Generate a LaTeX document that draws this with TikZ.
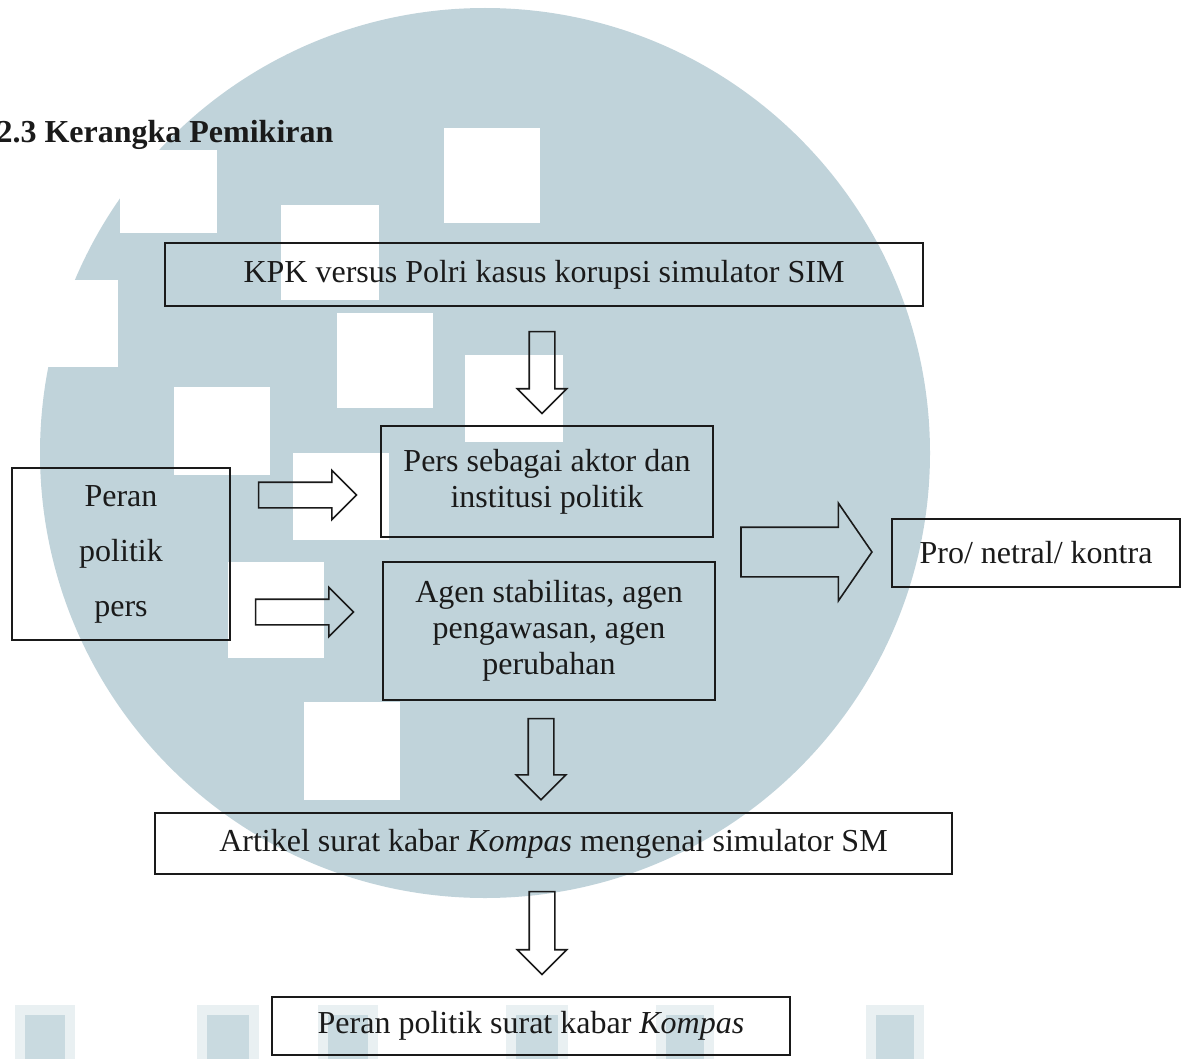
\documentclass[tikz,border=0pt]{standalone}
\usepackage{fontspec}
\setmainfont{Liberation Serif}
\usetikzlibrary{positioning, shapes.arrows, calc}

\definecolor{umnblue}{HTML}{C0D3DA}
\definecolor{inkcol}{HTML}{1A1A1A}

\begin{document}
\begin{tikzpicture}[
    x=0.375pt, y=-0.375pt,
    font=\fontsize{12}{13.5}\selectfont,
    box/.style={draw=inkcol, line width=0.6pt, inner sep=0pt, align=center, text=inkcol},
    blockarrow/.style={draw=inkcol, line width=0.6pt, single arrow, inner xsep=0pt, inner ysep=4.5pt,
        single arrow head extend=4.5pt, minimum height=#1, anchor=tail},
    bigarrow/.style={blockarrow=#1, inner ysep=9pt, single arrow head extend=9pt, single arrow tip angle=111}
]
\useasboundingbox (0,0) rectangle (1184,1059);

% watermark
\fill[umnblue] (485,453) circle (445);
\fill[white] (120,150) rectangle (217,233);
\fill[white] (40,280) rectangle (118,367);
\fill[white] (444,128) rectangle (540,223);
\fill[white] (281,205) rectangle (379,300);
\fill[white] (337,313) rectangle (433,408);
\fill[white] (465,355) rectangle (563,442);
\fill[white] (174,387) rectangle (270,475);
\fill[white] (293,453) rectangle (389,540);
\fill[white] (228,562) rectangle (324,658);
\fill[white] (304,702) rectangle (400,800);
\foreach \bx/\bw in {15/60,197/62,318/60,506/62,656/58,866/58} {
    \fill[umnblue!35] (\bx,1005) rectangle ++(\bw,60);
    \fill[umnblue!85] (\bx+10,1015) rectangle ++(\bw-20,50);
}

\node[font=\bfseries\fontsize{12}{15}\selectfont, anchor=base west, inner sep=0pt, text=inkcol] (title) at (-4,143) {2.3 Kerangka Pemikiran};

\node[box, minimum width=284.25pt, minimum height=23.6pt] (kpk) at (544,274.5) {KPK versus Polri kasus korupsi simulator SIM};
\node[box, minimum width=124.5pt, minimum height=41.6pt] (pers) at (547,481.5) {Pers sebagai aktor dan\\institusi politik};
\node[box, minimum width=124.5pt, minimum height=51.75pt] (agen) at (549,631) {Agen stabilitas, agen\\pengawasan, agen\\perubahan};
\node[box, minimum width=81.75pt, minimum height=64.5pt, font=\fontsize{12}{20.6}\selectfont] (peran) at (121,554) {Peran\\politik\\pers};
\node[box, minimum width=108pt, minimum height=25.5pt] (pro) at (1036,553) {Pro/ netral/ kontra};
\node[box, minimum width=298.9pt, minimum height=22.9pt] (artikel) at (553.5,843.5) {Artikel surat kabar \textit{Kompas} mengenai simulator SM};
\node[box, minimum width=194.25pt, minimum height=21.75pt] (kompas) at (531,1026) {Peran politik surat kabar \textit{Kompas}};

% block arrows
\node[blockarrow=30.75pt, rotate=-90] (a1) at ($(kpk.south)+(-2,24)$) {};
\node[blockarrow=30.4pt, rotate=-90] (a2) at ($(agen.south)+(-8,17)$) {};
\node[blockarrow=31.1pt, rotate=-90] (a3) at ($(artikel.south)+(-11.5,16)$) {};
\node[blockarrow=36.75pt] (h1) at ($(peran.east |- pers.west)+(27,13.5)$) {};
\node[blockarrow=36.75pt] (h2) at ($(peran.east |- agen.west)+(24,-19)$) {};
\node[bigarrow=49.1pt] (big) at ($(pro.west)+(-151,-1)$) {};

\end{tikzpicture}
\end{document}
